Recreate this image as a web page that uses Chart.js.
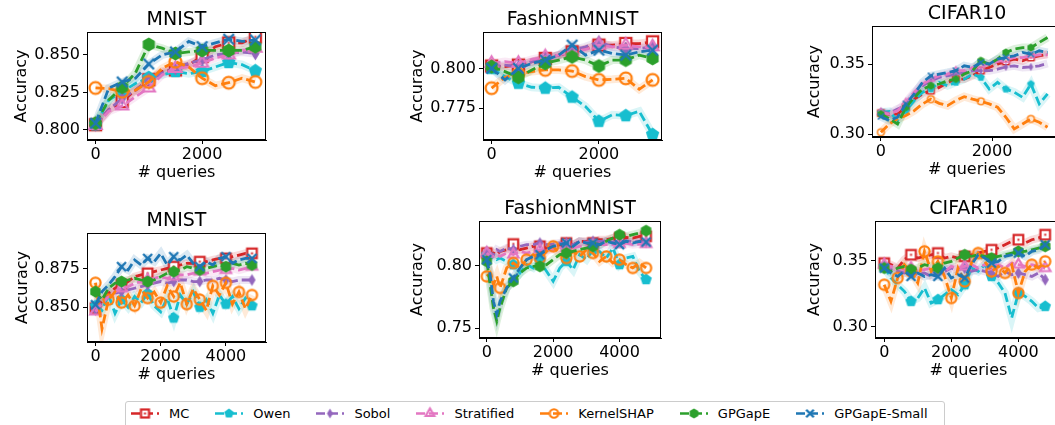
<!DOCTYPE html>
<html>
<head>
<meta charset="utf-8">
<script src="https://cdn.jsdelivr.net/npm/chart.js@4.4.1/dist/chart.umd.min.js"></script>
<style>
  html, body { margin: 0; padding: 0; background: #fff; }
  body { width: 1055px; height: 425px; position: relative; overflow: hidden; font-family: "DejaVu Sans", sans-serif; }
  #legend {
    position: absolute; left: 125px; top: 401px; width: 820px; height: 30px;
    box-sizing: border-box; border: 1px solid #ccc; border-radius: 3px;
    padding: 4px 0 0 5px; display: flex; align-items: flex-start; white-space: nowrap;
    font: 13px "DejaVu Sans", sans-serif; color: #000; line-height: 15px;
  }
  #legend .item { display: flex; align-items: center; margin-right: 26px; flex-shrink: 0; }
  #legend canvas { margin-right: 10px; flex-shrink: 0; }
</style>
</head>
<body>
<div id="legend"></div>
<script>
// ---- series ----
const seriesNames = ['MC', 'Owen', 'Sobol', 'Stratified', 'KernelSHAP', 'GPGapE', 'GPGapE-Small'];
const seriesColors = ['#d62728', '#17becf', '#9467bd', '#e377c2', '#ff7f0e', '#2ca02c', '#1f77b4'];
const seriesMarkers = ['square', 'pentagon', 'thin_diamond', 'triangle', 'circle', 'hexagon', 'x'];

// ---- query budgets (x values) ----
const queriesTop = [0, 250, 500, 750, 1000, 1250, 1500, 1750, 2000, 2250, 2500, 2750, 3000];
const queriesCifarTop = [0, 150, 300, 450, 600, 750, 900, 1050, 1200, 1350, 1500, 1650, 1800, 1950, 2100, 2250, 2400, 2550, 2700, 2850, 3000];
const queriesBottom = [0, 200, 400, 600, 800, 1000, 1200, 1400, 1600, 1800, 2000, 2200, 2400, 2600, 2800, 3000, 3200, 3400, 3600, 3800, 4000, 4200, 4400, 4600, 4800];
const queriesFashionBottom = [0, 100, 200, 300, 400, 600, 800, 1000, 1200, 1400, 1600, 1800, 2000, 2200, 2400, 2600, 2800, 3000, 3200, 3400, 3600, 3800, 4000, 4200, 4400, 4600, 4800];

// ---- tick labels ----
const xTicksTop = [0, 2000];
const xTicksBottom = [0, 2000, 4000];
const yTicksMnistTop = [0.800, 0.825, 0.850];
const yTicksFashionTop = [0.775, 0.800];
const yTicksCifarTop = [0.30, 0.35];
const yTicksMnistBottom = [0.850, 0.875];
const yTicksFashionBottom = [0.75, 0.80];
const yTicksCifarBottom = [0.30, 0.35];

// ---- MNIST, top row ----
const mnistTopMC = [0.8035, 0.8135, 0.819, 0.8265, 0.8335, 0.839, 0.840, 0.8435, 0.849, 0.8555, 0.858, 0.858, 0.862];
const mnistTopOwen = [0.8035, 0.820, 0.8255, 0.831, 0.835, 0.8367, 0.839, 0.8375, 0.839, 0.842, 0.845, 0.8435, 0.8395];
const mnistTopSobol = [0.8035, 0.8135, 0.821, 0.8265, 0.8335, 0.838, 0.841, 0.8445, 0.8467, 0.850, 0.851, 0.852, 0.851];
const mnistTopStrat = [0.803, 0.8125, 0.816, 0.8222, 0.828, 0.8367, 0.841, 0.842, 0.8445, 0.848, 0.850, 0.853, 0.8545];
const mnistTopShap = [0.828, 0.8275, 0.8255, 0.8265, 0.832, 0.841, 0.8455, 0.842, 0.8345, 0.8295, 0.8315, 0.8345, 0.832];
const mnistTopGP = [0.8045, 0.820, 0.8285, 0.838, 0.857, 0.8545, 0.851, 0.852, 0.853, 0.853, 0.853, 0.853, 0.8555];
const mnistTopGPSmall = [0.8045, 0.828, 0.832, 0.8345, 0.844, 0.850, 0.852, 0.859, 0.8555, 0.858, 0.8605, 0.859, 0.860];

// ---- FashionMNIST, top row ----
const fashionTopMC = [0.8019, 0.8015, 0.8025, 0.8047, 0.8068, 0.8089, 0.8110, 0.8131, 0.8153, 0.8153, 0.8163, 0.8163, 0.8174];
const fashionTopOwen = [0.8004, 0.7951, 0.7909, 0.7883, 0.7877, 0.7883, 0.7820, 0.7760, 0.7665, 0.7707, 0.7701, 0.7729, 0.7580];
const fashionTopSobol = [0.8015, 0.8025, 0.8015, 0.8047, 0.8068, 0.8089, 0.8121, 0.8142, 0.8174, 0.8142, 0.8131, 0.8131, 0.8142];
const fashionTopStrat = [0.8036, 0.8047, 0.8036, 0.8061, 0.8078, 0.8089, 0.8110, 0.8125, 0.8153, 0.8142, 0.8153, 0.8142, 0.8142];
const fashionTopShap = [0.7877, 0.7947, 0.7968, 0.7983, 0.7994, 0.7994, 0.7987, 0.7951, 0.7930, 0.7934, 0.7940, 0.7870, 0.7930];
const fashionTopGP = [0.8015, 0.7983, 0.7947, 0.7994, 0.8036, 0.8057, 0.8078, 0.8057, 0.8019, 0.8057, 0.8057, 0.8089, 0.8068];
const fashionTopGPSmall = [0.8004, 0.7930, 0.8004, 0.8036, 0.8057, 0.8089, 0.8153, 0.8089, 0.8121, 0.8100, 0.8089, 0.8110, 0.8121];

// ---- CIFAR10, top row ----
const cifarTopMC = [0.315, 0.3141, 0.3144, 0.3192, 0.325, 0.3287, 0.331, 0.3334, 0.337, 0.3393, 0.3393, 0.3417, 0.3453, 0.3476, 0.350, 0.3519, 0.3536, 0.3524, 0.3547, 0.3559, 0.3571];
const cifarTopOwen = [0.3156, 0.3163, 0.3097, 0.3168, 0.324, 0.330, 0.3322, 0.337, 0.3346, 0.337, 0.3393, 0.3429, 0.3405, 0.3322, 0.337, 0.3322, 0.330, 0.3263, 0.3358, 0.3216, 0.3287];
const cifarTopSobol = [0.3163, 0.3149, 0.318, 0.3204, 0.3275, 0.3346, 0.3381, 0.3405, 0.3417, 0.3429, 0.344, 0.3453, 0.3453, 0.3453, 0.3464, 0.348, 0.3488, 0.3476, 0.348, 0.3488, 0.3505];
const cifarTopStrat = [0.3156, 0.3144, 0.3168, 0.3227, 0.330, 0.3358, 0.3393, 0.3417, 0.3429, 0.3453, 0.3453, 0.3476, 0.3488, 0.350, 0.3519, 0.3528, 0.3547, 0.3547, 0.3559, 0.3566, 0.3566];
const cifarTopShap = [0.3014, 0.3073, 0.3109, 0.3133, 0.3168, 0.3216, 0.325, 0.322, 0.3204, 0.324, 0.3268, 0.325, 0.3235, 0.3216, 0.3192, 0.3121, 0.3038, 0.3073, 0.3109, 0.3085, 0.305];
const cifarTopGP = [0.3144, 0.311, 0.3073, 0.3192, 0.3263, 0.3322, 0.3346, 0.3358, 0.3381, 0.3393, 0.3429, 0.3453, 0.3524, 0.350, 0.3536, 0.3583, 0.3607, 0.3618, 0.3618, 0.3654, 0.369];
const cifarTopGPSmall = [0.3126, 0.3097, 0.3121, 0.3216, 0.3287, 0.337, 0.3417, 0.3429, 0.344, 0.3453, 0.3488, 0.3476, 0.3512, 0.350, 0.3536, 0.3547, 0.3559, 0.3583, 0.3571, 0.3595, 0.3583];

// ---- MNIST, bottom row ----
const mnistBotMC = [0.8494, 0.8537, 0.8592, 0.8624, 0.8646, 0.8668, 0.8700, 0.8711, 0.8722, 0.8733, 0.8743, 0.8754, 0.8765, 0.8776, 0.8787, 0.8787, 0.8798, 0.8798, 0.8809, 0.8819, 0.8819, 0.8830, 0.8841, 0.8852, 0.8852];
const mnistBotOwen = [0.851, 0.848, 0.858, 0.846, 0.855, 0.850, 0.857, 0.853, 0.859, 0.851, 0.847, 0.856, 0.843, 0.858, 0.852, 0.860, 0.850, 0.855, 0.846, 0.858, 0.852, 0.857, 0.849, 0.856, 0.851];
const mnistBotSobol = [0.8483, 0.8537, 0.8570, 0.8592, 0.8602, 0.8613, 0.8624, 0.8635, 0.8646, 0.8657, 0.8668, 0.8657, 0.8668, 0.8678, 0.8678, 0.8668, 0.8668, 0.8678, 0.8678, 0.8689, 0.8678, 0.8668, 0.8678, 0.8678, 0.8678];
const mnistBotStrat = [0.8472, 0.8526, 0.8570, 0.8602, 0.8624, 0.8635, 0.8657, 0.8668, 0.8678, 0.8689, 0.8700, 0.8689, 0.8700, 0.8711, 0.8711, 0.8722, 0.8733, 0.8722, 0.8733, 0.8743, 0.8743, 0.8754, 0.8743, 0.8754, 0.8765];
const mnistBotShap = [0.866, 0.836, 0.855, 0.860, 0.853, 0.858, 0.851, 0.862, 0.856, 0.860, 0.853, 0.864, 0.857, 0.866, 0.852, 0.862, 0.855, 0.848, 0.864, 0.858, 0.866, 0.852, 0.860, 0.849, 0.858];
const mnistBotGP = [0.8602, 0.8548, 0.8624, 0.8657, 0.8668, 0.8678, 0.8689, 0.8678, 0.8668, 0.8678, 0.8700, 0.8722, 0.8733, 0.8743, 0.8765, 0.8754, 0.8743, 0.8754, 0.8765, 0.8776, 0.8765, 0.8787, 0.8776, 0.8787, 0.8776];
const mnistBotGPSmall = [0.8516, 0.8602, 0.8646, 0.8700, 0.8765, 0.8743, 0.8809, 0.8776, 0.8819, 0.8798, 0.8852, 0.8776, 0.8830, 0.8809, 0.8841, 0.8787, 0.8765, 0.8798, 0.8776, 0.8819, 0.8830, 0.8787, 0.8809, 0.8819, 0.8819];

// ---- FashionMNIST, bottom row ----
const fashionBotMC = [0.8104, 0.8091, 0.8104, 0.8091, 0.8117, 0.8131, 0.8176, 0.8131, 0.8144, 0.8158, 0.8158, 0.8144, 0.8158, 0.8171, 0.8184, 0.8171, 0.8198, 0.8198, 0.8184, 0.8211, 0.8211, 0.8224, 0.8224, 0.8230, 0.8224, 0.8238, 0.8238];
const fashionBotOwen = [0.8091, 0.8064, 0.8077, 0.8051, 0.8064, 0.8037, 0.8011, 0.7944, 0.8011, 0.7984, 0.8037, 0.7957, 0.7877, 0.7984, 0.8037, 0.7971, 0.8091, 0.8051, 0.8131, 0.8117, 0.8064, 0.8144, 0.8011, 0.8064, 0.8077, 0.7957, 0.7891];
const fashionBotSobol = [0.8117, 0.8104, 0.8091, 0.8131, 0.8117, 0.8144, 0.8131, 0.8158, 0.8171, 0.8171, 0.8184, 0.8171, 0.8176, 0.8184, 0.8184, 0.8171, 0.8198, 0.8192, 0.8198, 0.8198, 0.8203, 0.8192, 0.8198, 0.8203, 0.8192, 0.8198, 0.8192];
const fashionBotStrat = [0.8104, 0.8077, 0.8077, 0.8091, 0.8077, 0.8104, 0.8091, 0.8117, 0.8104, 0.8117, 0.8131, 0.8131, 0.8131, 0.8144, 0.8144, 0.8144, 0.8158, 0.8158, 0.8158, 0.8171, 0.8171, 0.8171, 0.8176, 0.8184, 0.8171, 0.8176, 0.8176];
const fashionBotShap = [0.7917, 0.7944, 0.7850, 0.7917, 0.7824, 0.7984, 0.8024, 0.7984, 0.8051, 0.8091, 0.8064, 0.8117, 0.8158, 0.8091, 0.8064, 0.8117, 0.8077, 0.8131, 0.8104, 0.8037, 0.8077, 0.8024, 0.8051, 0.8011, 0.7984, 0.8024, 0.7984];
const fashionBotGP = [0.8037, 0.7850, 0.7664, 0.7557, 0.7664, 0.7824, 0.7877, 0.7944, 0.7984, 0.7997, 0.7997, 0.8011, 0.8051, 0.8091, 0.8104, 0.8117, 0.8131, 0.8144, 0.8158, 0.8171, 0.8198, 0.8224, 0.8251, 0.8238, 0.8251, 0.8264, 0.8283];
const fashionBotGPSmall = [0.8051, 0.7931, 0.7717, 0.7610, 0.7717, 0.7824, 0.7904, 0.7984, 0.8051, 0.8077, 0.8091, 0.8131, 0.8158, 0.8171, 0.8184, 0.8158, 0.8198, 0.8184, 0.8184, 0.8171, 0.8198, 0.8184, 0.8171, 0.8198, 0.8184, 0.8198, 0.8192];

// ---- CIFAR10, bottom row ----
const cifarBotMC = [0.3482, 0.3470, 0.3444, 0.3508, 0.3545, 0.3520, 0.3533, 0.3545, 0.3558, 0.3520, 0.3533, 0.3520, 0.3533, 0.3545, 0.3558, 0.3571, 0.3583, 0.3596, 0.3621, 0.3646, 0.3659, 0.3634, 0.3659, 0.3672, 0.3697];
const cifarBotOwen = [0.3457, 0.3369, 0.3318, 0.3268, 0.3192, 0.3217, 0.3293, 0.3179, 0.3205, 0.3242, 0.3280, 0.3242, 0.3318, 0.3444, 0.3419, 0.3470, 0.3381, 0.3331, 0.3255, 0.3066, 0.3255, 0.3230, 0.3192, 0.3141, 0.3154];
const cifarBotSobol = [0.3457, 0.3432, 0.3419, 0.3407, 0.3419, 0.3394, 0.3407, 0.3381, 0.3407, 0.3419, 0.3444, 0.3432, 0.3444, 0.3419, 0.3432, 0.3419, 0.3407, 0.3381, 0.3419, 0.3394, 0.3407, 0.3394, 0.3381, 0.3407, 0.3356];
const cifarBotStrat = [0.3470, 0.3457, 0.3444, 0.3432, 0.3444, 0.3419, 0.3432, 0.3444, 0.3432, 0.3419, 0.3457, 0.3444, 0.3457, 0.3470, 0.3444, 0.3470, 0.3457, 0.3470, 0.3444, 0.3482, 0.3470, 0.3457, 0.3470, 0.3457, 0.3444];
const cifarBotShap = [0.3318, 0.3192, 0.3369, 0.3470, 0.3419, 0.3331, 0.3571, 0.3419, 0.3495, 0.3381, 0.3217, 0.3444, 0.3343, 0.3482, 0.3558, 0.3495, 0.3419, 0.3457, 0.3407, 0.3470, 0.3255, 0.3419, 0.3470, 0.3444, 0.3495];
const cifarBotGP = [0.3444, 0.3419, 0.3444, 0.3457, 0.3432, 0.3444, 0.3470, 0.3457, 0.3444, 0.3482, 0.3495, 0.3520, 0.3545, 0.3533, 0.3545, 0.3533, 0.3520, 0.3533, 0.3545, 0.3558, 0.3571, 0.3571, 0.3583, 0.3596, 0.3609];
const cifarBotGPSmall = [0.3444, 0.3407, 0.3381, 0.3419, 0.3381, 0.3407, 0.3381, 0.3394, 0.3381, 0.3444, 0.3369, 0.3394, 0.3369, 0.3470, 0.3545, 0.3520, 0.3482, 0.3495, 0.3533, 0.3545, 0.3558, 0.3533, 0.3571, 0.3583, 0.3621];

const FONT = '"DejaVu Sans", sans-serif';
const AXIS_W = 80, X_AXIS_H = 46, TITLE_H = 26, PAD_R = 12;

// frame = axes box in page pixels [left, top, right, bottom]
const panels = [
  { title: 'MNIST', frame: [87, 32, 266, 140], x: queriesTop, xr: [-160, 3200], yr: [0.7933, 0.8653],
    xt: xTicksTop, yt: yTicksMnistTop, dec: 3, yTitlePad: 5.4, mark: 500, markShap: 500, msize: 14,
    ys: [mnistTopMC, mnistTopOwen, mnistTopSobol, mnistTopStrat, mnistTopShap, mnistTopGP, mnistTopGPSmall] },
  { title: 'FashionMNIST', frame: [483, 32, 662, 140], x: queriesTop, xr: [-160, 3175], yr: [0.7545, 0.8237],
    xt: xTicksTop, yt: yTicksFashionTop, dec: 3, yTitlePad: 5.4, mark: 500, markShap: 500, msize: 14,
    ys: [fashionTopMC, fashionTopOwen, fashionTopSobol, fashionTopStrat, fashionTopShap, fashionTopGP, fashionTopGPSmall] },
  { title: 'CIFAR10', frame: [872, 26, 1062, 137], x: queriesCifarTop, xr: [-160, 3260], yr: [0.298, 0.3772],
    xt: xTicksTop, yt: yTicksCifarTop, dec: 2, yTitlePad: 13.7, mark: 450, markShap: 900, msize: 8,
    ys: [cifarTopMC, cifarTopOwen, cifarTopSobol, cifarTopStrat, cifarTopShap, cifarTopGP, cifarTopGPSmall] },
  { title: 'MNIST', frame: [87, 233, 266, 342], x: queriesBottom, xr: [-260, 5230], yr: [0.8273, 0.8985],
    xt: xTicksBottom, yt: yTicksMnistBottom, dec: 3, yTitlePad: 5.9, mark: 800, markShap: 400, msize: 12,
    ys: [mnistBotMC, mnistBotOwen, mnistBotSobol, mnistBotStrat, mnistBotShap, mnistBotGP, mnistBotGPSmall] },
  { title: 'FashionMNIST', frame: [479, 221, 661, 338], x: queriesFashionBottom, xr: [-235, 5250], yr: [0.7422, 0.8361],
    xt: xTicksBottom, yt: yTicksFashionBottom, dec: 2, yTitlePad: 9.4, mark: 800, markShap: 400, msize: 12,
    ys: [fashionBotMC, fashionBotOwen, fashionBotSobol, fashionBotStrat, fashionBotShap, fashionBotGP, fashionBotGPSmall] },
  { title: 'CIFAR10', frame: [875, 221, 1062, 338], x: queriesBottom, xr: [-275, 5300], yr: [0.2914, 0.3801],
    xt: xTicksBottom, yt: yTicksCifarBottom, dec: 2, yTitlePad: 10.4, mark: 800, markShap: 400, msize: 12,
    ys: [cifarBotMC, cifarBotOwen, cifarBotSobol, cifarBotStrat, cifarBotShap, cifarBotGP, cifarBotGPSmall] }
];

function withAlpha(hex, a) {
  const n = parseInt(hex.slice(1), 16);
  return `rgba(${(n >> 16) & 255}, ${(n >> 8) & 255}, ${n & 255}, ${a})`;
}

// matplotlib-like marker glyphs drawn to small canvases
function markerImage(shape, color, size) {
  const lw = size >= 10 ? 2.2 : 1.4;
  const d = Math.ceil(size + 2 * lw + 2);
  const c = document.createElement('canvas');
  c.width = d; c.height = d;
  const g = c.getContext('2d');
  const m = d / 2, r = size / 2;
  g.strokeStyle = color; g.fillStyle = color; g.lineWidth = lw;
  const poly = (n, rad) => {
    g.beginPath();
    for (let i = 0; i < n; i++) {
      const a = -Math.PI / 2 + i * 2 * Math.PI / n;
      const px = m + rad * Math.cos(a), py = m + rad * Math.sin(a);
      if (i) g.lineTo(px, py); else g.moveTo(px, py);
    }
    g.closePath();
  };
  switch (shape) {
    case 'square': {
      const h = r * 0.8;
      g.fillStyle = '#fff';
      g.fillRect(m - h, m - h, 2 * h, 2 * h);
      g.strokeRect(m - h, m - h, 2 * h, 2 * h);
      g.fillStyle = color;
      g.fillRect(m - 1, m - 1, 2, 2);
      break;
    }
    case 'circle':
      g.beginPath(); g.arc(m, m, r * 0.85, 0, 2 * Math.PI); g.stroke();
      break;
    case 'triangle':
      poly(3, r); g.stroke();
      break;
    case 'pentagon':
      poly(5, r); g.fill();
      break;
    case 'hexagon':
      poly(6, r); g.fill();
      break;
    case 'thin_diamond':
      g.beginPath();
      g.moveTo(m, m - r); g.lineTo(m + r * 0.6, m); g.lineTo(m, m + r); g.lineTo(m - r * 0.6, m);
      g.closePath(); g.fill();
      break;
    case 'x': {
      const k = r * 0.75;
      g.lineWidth = lw * 1.1;
      g.beginPath();
      g.moveTo(m - k, m - k); g.lineTo(m + k, m + k);
      g.moveTo(m + k, m - k); g.lineTo(m - k, m + k);
      g.stroke();
      break;
    }
  }
  return c;
}

// box round the axes, as matplotlib draws all four spines
const framePlugin = {
  id: 'frame',
  afterDraw(chart) {
    const { ctx, chartArea: a } = chart;
    ctx.save();
    ctx.strokeStyle = '#000';
    ctx.lineWidth = 1;
    ctx.strokeRect(Math.round(a.left) + 0.5, Math.round(a.top) + 0.5,
      Math.round(a.right - a.left) - 1, Math.round(a.bottom - a.top) - 1);
    ctx.restore();
  }
};

function buildDatasets(p) {
  const bands = [], lines = [];
  seriesNames.forEach((name, k) => {
    const pts = p.x.map((x, i) => ({ x, y: p.ys[k][i] }));
    const every = name === 'KernelSHAP' ? p.markShap : p.mark;
    bands.push({
      data: pts, borderColor: withAlpha(seriesColors[k], 0.16), borderWidth: 8,
      pointRadius: 0, fill: false, order: 100 + k
    });
    lines.push({
      label: name, data: pts,
      borderColor: seriesColors[k], borderWidth: 2.8, borderDash: [9, 4],
      pointStyle: markerImage(seriesMarkers[k], seriesColors[k], p.msize),
      pointRadius: ctx => (ctx.raw && ctx.raw.x % every === 0 ? 3 : 0),
      pointHoverRadius: 0, fill: false, order: 7 - k
    });
  });
  return bands.concat(lines);
}

panels.forEach(p => {
  const [L, T, R, B] = p.frame;
  const W = R - L + AXIS_W + PAD_R, H = TITLE_H + (B - T) + X_AXIS_H;
  const cv = document.createElement('canvas');
  cv.width = W; cv.height = H;
  cv.style.cssText = `position:absolute;left:${L - AXIS_W}px;top:${T - TITLE_H}px;width:${W}px;height:${H}px;`;
  document.body.appendChild(cv);

  const tickFont = { family: FONT, size: 16 };
  new Chart(cv.getContext('2d'), {
    type: 'line',
    data: { datasets: buildDatasets(p) },
    options: {
      responsive: false,
      animation: false,
      devicePixelRatio: 1,
      layout: { padding: { left: 0, right: PAD_R, top: 0, bottom: 0 } },
      plugins: {
        legend: { display: false },
        tooltip: { enabled: false },
        title: {
          display: true, text: p.title, fullSize: false, color: '#000',
          font: { family: FONT, size: 19, weight: 'normal' },
          padding: { top: 2.7, bottom: 0.5 }
        }
      },
      scales: {
        x: {
          type: 'linear', min: p.xr[0], max: p.xr[1],
          afterBuildTicks: s => { s.ticks = p.xt.map(v => ({ value: v })); },
          afterFit: s => { s.height = X_AXIS_H; },
          grid: { display: true, drawOnChartArea: false, drawTicks: true, tickLength: 4, color: '#000' },
          border: { display: true, color: '#000', width: 1 },
          ticks: { font: tickFont, color: '#000', padding: 1.5, maxRotation: 0, autoSkip: false, callback: v => String(v) },
          title: { display: true, text: '# queries', color: '#000', font: tickFont, padding: { top: 0, bottom: 3.4 } }
        },
        y: {
          type: 'linear', min: p.yr[0], max: p.yr[1],
          afterBuildTicks: s => { s.ticks = p.yt.map(v => ({ value: v })); },
          afterFit: s => { s.width = AXIS_W; },
          grid: { display: true, drawOnChartArea: false, drawTicks: true, tickLength: 4, color: '#000' },
          border: { display: true, color: '#000', width: 1 },
          ticks: { font: tickFont, color: '#000', padding: 3, autoSkip: false, callback: v => Number(v).toFixed(p.dec) },
          title: { display: true, text: 'Accuracy', color: '#000', font: tickFont, padding: { top: p.yTitlePad, bottom: 0 } }
        }
      }
    },
    plugins: [framePlugin]
  });
});

// shared legend under the grid
const legend = document.getElementById('legend');
seriesNames.forEach((name, k) => {
  const item = document.createElement('div');
  item.className = 'item';
  const ic = document.createElement('canvas');
  ic.width = 28; ic.height = 15;
  const g = ic.getContext('2d');
  g.strokeStyle = seriesColors[k]; g.lineWidth = 2.5; g.setLineDash([9, 4]);
  g.beginPath(); g.moveTo(0, 7.5); g.lineTo(28, 7.5); g.stroke();
  const mk = markerImage(seriesMarkers[k], seriesColors[k], 10);
  g.drawImage(mk, 14 - mk.width / 2, 7.5 - mk.height / 2);
  const label = document.createElement('span');
  label.textContent = name;
  item.appendChild(ic); item.appendChild(label);
  legend.appendChild(item);
});
</script>
</body>
</html>
